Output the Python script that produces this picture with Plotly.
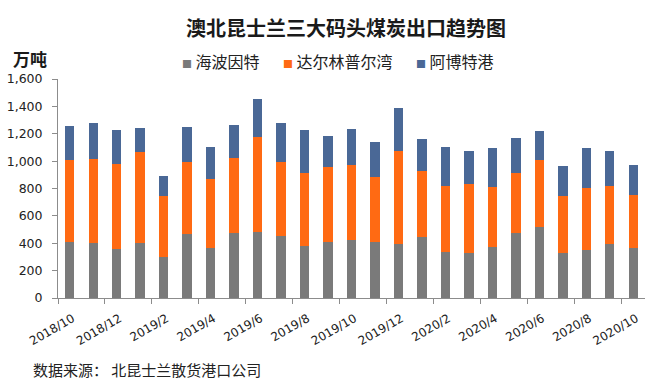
import plotly.graph_objects as go

months = ["2018/10", "2018/11", "2018/12", "2019/1", "2019/2", "2019/3", "2019/4",
          "2019/5", "2019/6", "2019/7", "2019/8", "2019/9", "2019/10", "2019/11",
          "2019/12", "2020/1", "2020/2", "2020/3", "2020/4", "2020/5", "2020/6",
          "2020/7", "2020/8", "2020/9", "2020/10"]

hay_point = [409, 402, 360, 404, 300, 465, 365, 472, 482, 450, 380, 412, 424, 412,
             397, 443, 336, 329, 375, 472, 519, 331, 351, 397, 368]
dalrymple_bay = [601, 616, 621, 660, 448, 531, 502, 553, 697, 546, 533, 545, 550, 472,
                 674, 485, 480, 501, 433, 441, 491, 417, 450, 419, 387]
abbot_point = [249, 258, 249, 180, 141, 256, 234, 241, 277, 280, 317, 226, 261, 256,
               317, 233, 285, 241, 285, 256, 212, 216, 292, 255, 217]

series_names = ["海波因特", "达尔林普尔湾", "阿博特港"]
colors = ["#7a7a7a", "#ff6a13", "#4a6896"]

fig = go.Figure()
for name, vals, c in zip(series_names, [hay_point, dalrymple_bay, abbot_point], colors):
    fig.add_trace(go.Bar(x=months, y=vals, name=name, showlegend=False,
                         marker=dict(color=c, line=dict(width=0))))

font_cjk = "Noto Sans CJK SC, DejaVu Sans, sans-serif"
font_num = "DejaVu Sans, Verdana, sans-serif"

# plot area: x 58..645, y 79..298
L, R, T, B = 58, 645, 79, 298
W, H = R - L, B - T

def px(x):
    return (x - L) / W

def py(y):
    return (B - y) / H

fig.update_layout(
    width=670, height=380,
    barmode="stack", bargap=0.6,
    plot_bgcolor="white", paper_bgcolor="white",
    margin=dict(l=L, r=670 - R, t=T, b=380 - B),
    font=dict(family=font_cjk, size=12, color="#222222"),
    title=dict(text="<b>澳北昆士兰三大码头煤炭出口趋势图</b>", x=346 / 670, xanchor="center",
               y=1 - 29 / 380, yanchor="middle",
               font=dict(family=font_cjk, size=20, color="#1a1a1a")),
    showlegend=False,
)

fig.update_xaxes(
    type="category", tickmode="linear", tick0=0, dtick=2, tickangle=-30,
    tickson="boundaries", ticks="outside", ticklen=5, tickcolor="#8c8c8c",
    showline=True, linecolor="#8c8c8c", linewidth=1, showgrid=False,
    tickfont=dict(family=font_num, size=12, color="#222222"),
    ticklabelstandoff=8, ticklabelshift=3,
    range=[-0.5, 24.5], automargin=False,
)
fig.update_yaxes(
    range=[0, 1600], dtick=200, tickformat=",", ticks="outside", ticklen=5,
    tickcolor="#8c8c8c", showline=True, linecolor="#8c8c8c", linewidth=1,
    showgrid=False, zeroline=False, automargin=False,
    tickfont=dict(family=font_num, size=12.5, color="#222222"),
    ticklabelstandoff=7,
)

# legend row (small coloured squares followed by series names)
legend_left = [180, 281, 414]
for name, c, lx in zip(series_names, colors, legend_left):
    fig.add_annotation(
        text=f"<span style='color:{c};font-size:10px'>■</span> {name}",
        xref="paper", yref="paper", x=px(lx), y=py(61),
        xanchor="left", yanchor="middle", showarrow=False,
        font=dict(family=font_cjk, size=16, color="#222222"))

fig.add_annotation(text="<b>万吨</b>", xref="paper", yref="paper", x=px(30), y=py(58),
                   xanchor="center", yanchor="middle", showarrow=False,
                   font=dict(family=font_cjk, size=17, color="#1a1a1a"))
fig.add_annotation(text="数据来源： 北昆士兰散货港口公司", xref="paper", yref="paper",
                   x=px(31), y=py(369), xanchor="left", yanchor="middle", showarrow=False,
                   font=dict(family=font_cjk, size=15, color="#222222"))

fig.write_html("out.html", config={"displayModeBar": False},
               post_script="document.body.style.margin='0';document.body.style.overflow='hidden';")
